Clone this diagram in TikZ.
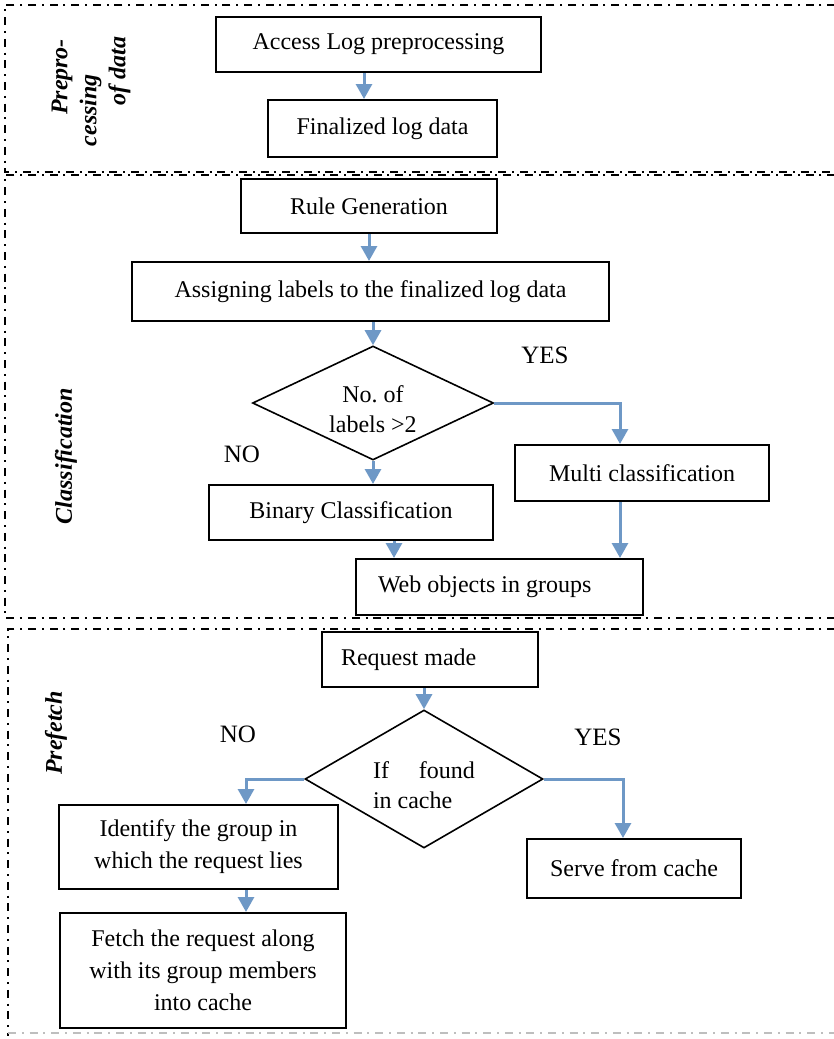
\documentclass[tikz,border=0pt]{standalone}
\usepackage{fontspec}
\setmainfont{Liberation Serif}
\usetikzlibrary{shapes.geometric,arrows.meta}
\definecolor{flowblue}{RGB}{110,152,198}
\definecolor{framegray}{RGB}{190,190,190}
\begin{document}
\begin{tikzpicture}[x=0.5pt,y=-0.5pt,
  box/.style={draw, rectangle, line width=1pt, inner sep=2pt, font=\fontsize{12}{16}\selectfont, align=center},
  cond/.style={draw, diamond, aspect=2.1, inner sep=0pt, line width=0.8pt, font=\fontsize{12}{15}\selectfont},
  flow/.style={draw=flowblue, line width=1.5pt, -{Triangle[width=8pt,length=7.5pt]}},
  stageframe/.style={line width=1pt, dash pattern=on 4pt off 2.9pt on 1pt off 2.9pt},
  answer/.style={font=\fontsize{12.5}{15}\selectfont},
  stage/.style={rotate=90, font=\fontsize{12}{14.5}\selectfont\bfseries\itshape, align=center}]
\clip (0,0) rectangle (834,1039);
\draw[stageframe] (900,5) -- (5,5) -- (5,172) -- (900,172);
\draw[stageframe] (900,175) -- (5,175) -- (5,618) -- (900,618);
\draw[stageframe] (900,629) -- (8,629) -- (8,1036);
\draw[stageframe, framegray] (8,1033) -- (900,1033);
\node[stage] (sec1) at (91,110) {\hspace*{33pt}Prepro-\\cessing\\\hspace*{39pt}of data};
\node[stage] (sec2) at (66,456) {Classification};
\node[stage] (sec3) at (56,733) {Prefetch};
\node[box, minimum width=162.5pt, minimum height=27.5pt] (acc) at (378.5,44.5) {Access Log preprocessing};
\node[box, minimum width=114.5pt, minimum height=28.5pt] (fin) at (382.5,128.5) {Finalized log data};
\node[box, minimum width=128pt, minimum height=27pt] (rulegen) at (369,206) {Rule Generation};
\node[box, minimum width=238.5pt, minimum height=29.5pt] (assign) at (370.5,291.5) {Assigning labels to the finalized log data};
\node[cond, align=center, minimum width=120.5pt, minimum height=57pt] (labels) at (373,403) {\rule{0pt}{15pt}No.\ of\\labels >2};
\node[box, minimum width=127pt, minimum height=28pt] (multi) at (642,473) {Multi classification};
\node[box, minimum width=142pt, minimum height=27.5pt] (binary) at (351,512.5) {Binary Classification};
\node[box, inner xsep=11pt, text width=121.5pt, align=flush left, minimum height=28pt] (web) at (499.5,587) {Web objects in groups};
\node[box, inner xsep=9.5pt, text width=89pt, align=flush left, minimum height=27.5pt] (req) at (430,659.5) {Request made};
\node[cond, align=left, minimum width=119pt, minimum height=69pt] (found) at (424,779) {\rule{0pt}{15pt}If\hspace{15pt}found\\in cache};
\node[box, minimum width=139.5pt, minimum height=42pt] (ident) at (198.5,847) {Identify the group in\\which the request lies};
\node[box, minimum width=143pt, minimum height=57.5pt] (fetch) at (203,970.5) {Fetch the request along\\with its group members\\into cache};
\node[box, minimum width=107pt, minimum height=29.5pt] (serve) at (634,868.5) {Serve from cache};
\node[answer] (yes1) at (545,355) {YES};
\node[answer] (no1) at (242,454) {NO};
\node[answer] (no2) at (238,734) {NO};
\node[answer] (yes2) at (598,737) {YES};
\draw[flow] ([xshift=-7.25pt]acc.south) -- ([xshift=-7.25pt]acc.south |- fin.north);
\draw[flow] (rulegen.south) -- (rulegen.south |- assign.north);
\draw[flow] (assign.south -| labels.north) -- (labels.north);
\draw[flow] (labels.east) -| ([xshift=-11pt]multi.north);
\draw[flow] (labels.south) -- (labels.south |- binary.north);
\draw[flow] ([xshift=21.5pt]binary.south) -- ([xshift=21.5pt]binary.south |- web.north);
\draw[flow] ([xshift=-11pt]multi.south) -- ([xshift=-11pt]multi.south |- web.north);
\draw[flow] (req.south -| found.north) -- (found.north);
\draw[flow] (found.west) -| ([xshift=23.75pt]ident.north);
\draw[flow] ([xshift=23.75pt]ident.south) -- ([xshift=23.75pt]ident.south |- fetch.north);
\draw[flow] (found.east) -| ([xshift=-5.5pt]serve.north);
\end{tikzpicture}
\end{document}
